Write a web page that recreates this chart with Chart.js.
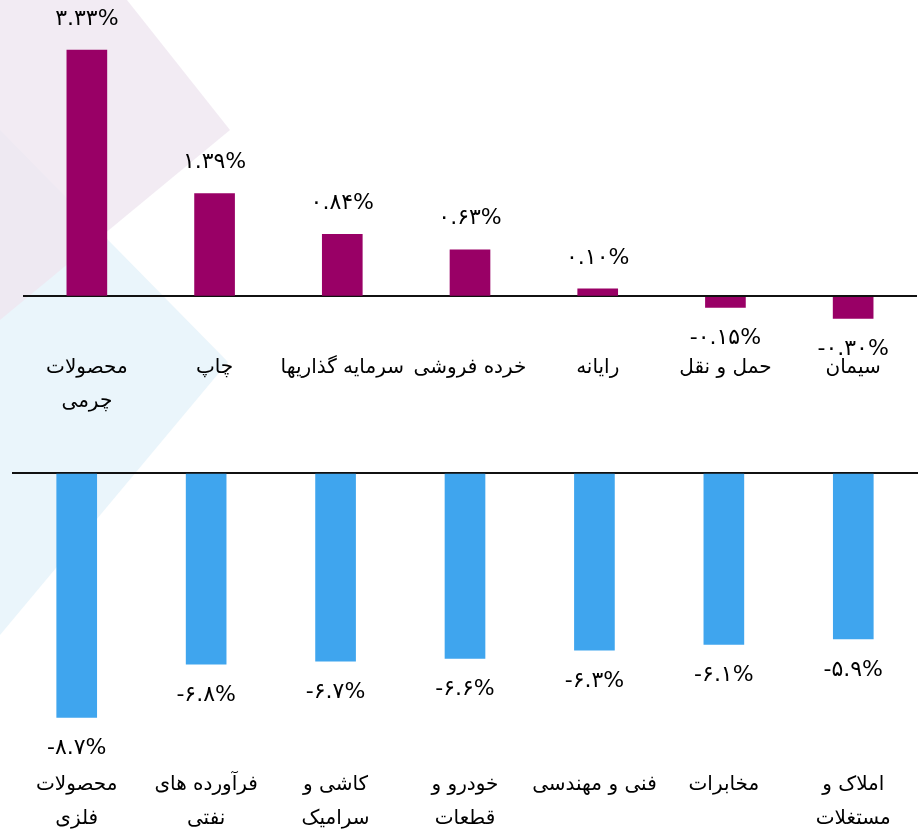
<!DOCTYPE html>
<html lang="fa">
<head>
<meta charset="utf-8">
<script src="https://cdn.jsdelivr.net/npm/chart.js@4.4.0/dist/chart.umd.min.js"></script>
<style>
    html, body { margin: 0; padding: 0; background: #fff; overflow: hidden; }
    #page { position: relative; width: 921px; height: 833px; overflow: hidden; }
    #bg { position: absolute; left: 0; top: 0; }
    .box { position: absolute; left: 0; width: 921px; }
    #topBox { top: 0; height: 440px; }
    #bottomBox { top: 431px; height: 411px; }
</style>
</head>
<body>
<div id="page">
    <svg id="bg" width="921" height="833">
        <polygon points="0,130 228,362 0,635" fill="#eaf5fb"></polygon>
        <polygon points="0,0 127,0 230,130 0,320" fill="#efe6f0" fill-opacity="0.8"></polygon>
    </svg>
    <div class="box" id="topBox"><canvas id="topChart"></canvas></div>
    <div class="box" id="bottomBox"><canvas id="bottomChart"></canvas></div>
</div>
<script>
// 上方：漲幅最多的產業
const topLabels = [
    ['محصولات', 'چرمی'], 'چاپ', 'سرمایه گذاریها', 'خرده فروشی', 'رایانه', 'حمل و نقل', 'سیمان'
];
const topValues = [3.33, 1.39, 0.84, 0.63, 0.10, -0.15, -0.30];

// 下方：跌幅最多的產業
const bottomLabels = [
    ['محصولات', 'فلزی'], ['فرآورده های', 'نفتی'], ['کاشی و', 'سرامیک'], ['خودرو و', 'قطعات'],
    'فنی و مهندسی', 'مخابرات', ['املاک و', 'مستغلات']
];
const bottomValues = [-8.7, -6.8, -6.7, -6.6, -6.3, -6.1, -5.9];

const FONT = "'DejaVu Sans', sans-serif";
const faDigits = '۰۱۲۳۴۵۶۷۸۹';

// 數字轉成波斯數字
function toFa(v, dec) {
    return v.toFixed(dec).replace(/[0-9]/g, d => faDigits[d]) + '%';
}

// 在柱子上方/下方畫數值
function valueLabels(dec) {
    return {
        id: 'valueLabels',
        afterDatasetsDraw(chart) {
            const ctx = chart.ctx;
            const meta = chart.getDatasetMeta(0);
            const data = chart.data.datasets[0].data;
            ctx.save();
            ctx.font = '22px ' + FONT;
            ctx.fillStyle = '#000';
            ctx.textAlign = 'center';
            ctx.textBaseline = 'middle';
            ctx.direction = 'ltr';
            meta.data.forEach((bar, i) => {
                const v = data[i];
                const y = v >= 0 ? bar.y - 31 : bar.y + 31;
                ctx.fillText(toFa(v, dec), bar.x, y);
            });
            ctx.restore();
        }
    };
}

function makeChart(id, labels, values, color, yMin, yMax, padding) {
    return new Chart(document.getElementById(id), {
        type: 'bar',
        data: {
            labels: labels,
            datasets: [{
                data: values,
                backgroundColor: color,
                barThickness: 40
            }]
        },
        options: {
            responsive: true,
            maintainAspectRatio: false,
            animation: false,
            layout: { padding: padding },
            plugins: {
                legend: { display: false },
                tooltip: { enabled: false }
            },
            scales: {
                x: {
                    grid: { display: false },
                    border: { display: false },
                    ticks: {
                        color: '#000',
                        padding: 6,
                        font: { family: FONT, size: 20, lineHeight: 1.7 },
                        maxRotation: 0,
                        autoSkip: false
                    }
                },
                y: {
                    min: yMin,
                    max: yMax,
                    afterBuildTicks: s => { s.ticks = [{ value: 0 }]; },
                    grid: { color: '#111', lineWidth: 2, drawTicks: false },
                    border: { display: false },
                    ticks: { display: false }
                }
            }
        },
        plugins: [valueLabels(id === 'topChart' ? 2 : 1)]
    });
}

makeChart('topChart', topLabels, topValues, '#990066', -0.55, 3.9,
    { top: 8, bottom: 15, left: 23, right: 4 });
makeChart('bottomChart', bottomLabels, bottomValues, '#3fa5ee', -10, 0.5,
    { top: 28, bottom: 0, left: 12, right: 3 });
</script>
</body>
</html>
